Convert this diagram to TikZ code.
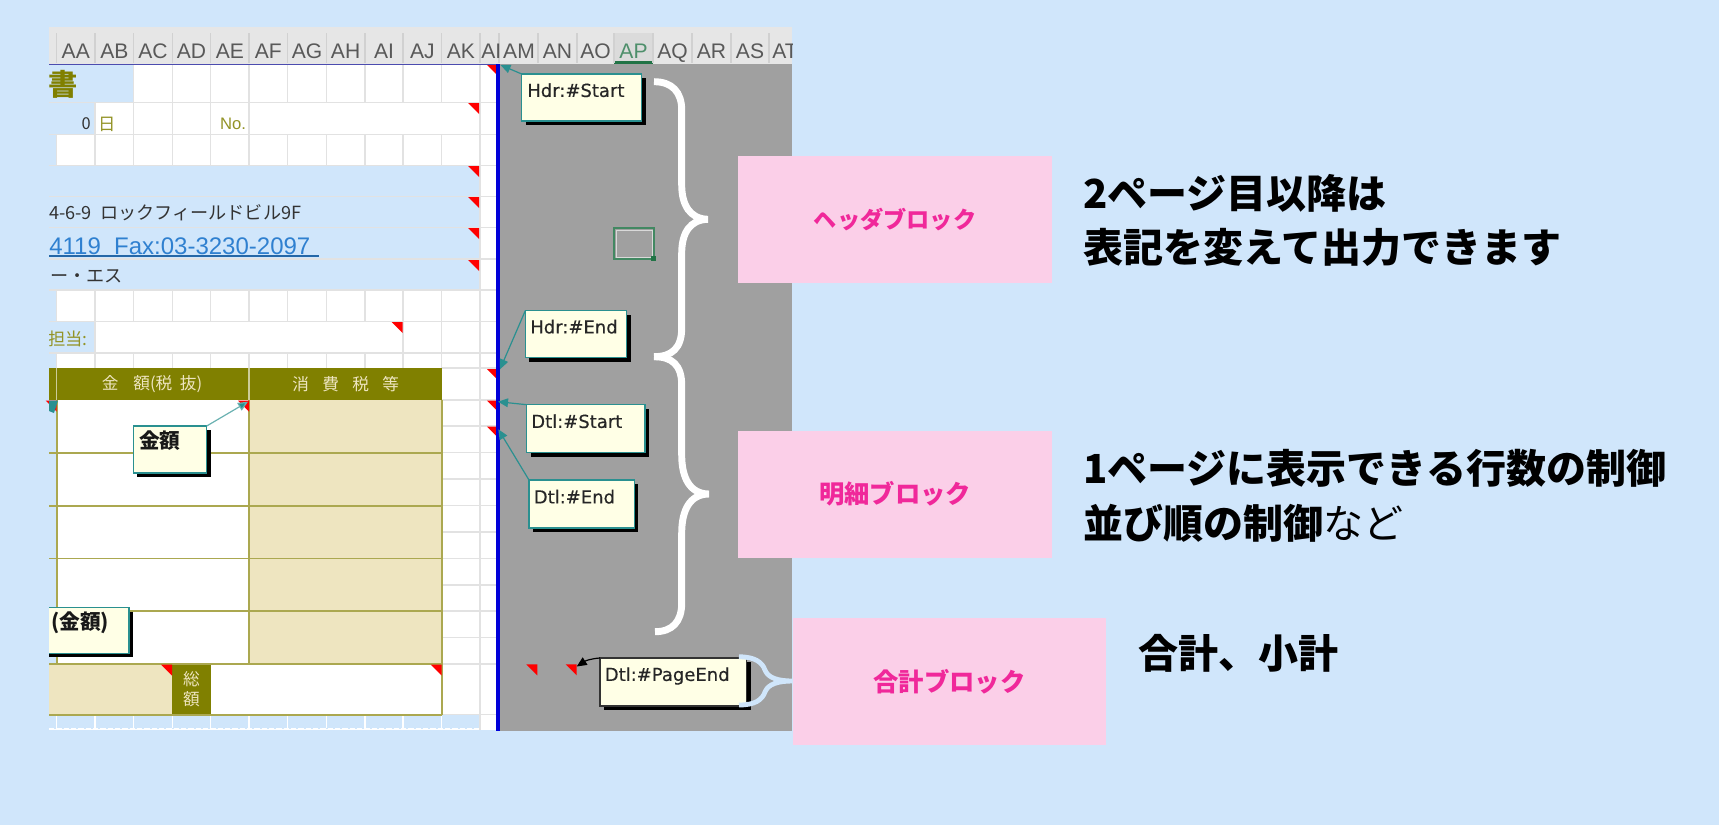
\documentclass[tikz,border=0pt]{standalone}
\usepackage{fontspec}
\usetikzlibrary{arrows.meta}
\setmainfont{Noto Sans CJK JP}
\newfontfamily\latf{Liberation Sans}
\newfontfamily\notef[FakeBold=0.35]{DejaVu Sans}
\newcommand\fsz[1]{\fontsize{#1}{#1}\selectfont}
\definecolor{pagebg}{HTML}{D0E6FB}
\definecolor{pinkbox}{HTML}{FBCFE8}
\definecolor{pinktxt}{HTML}{F0289A}
\definecolor{sheetgray}{HTML}{A0A0A0}
\definecolor{hdrgray}{HTML}{E6E6E6}
\definecolor{gridc}{HTML}{E2E2E2}
\definecolor{olive2}{HTML}{808000}
\definecolor{oliveline}{HTML}{ABA850}
\definecolor{tanc}{HTML}{EEE5C0}
\definecolor{notebg}{HTML}{FFFFE6}
\definecolor{tealc}{HTML}{2A9090}
\definecolor{linkc}{HTML}{2F80D0}
\definecolor{selgreen}{HTML}{217346}
\tikzset{
  notebox/.style={draw=tealc,fill=notebg,line width=1.1pt,anchor=north west,inner sep=0pt,outer sep=0pt},
  notetxt/.style={anchor=north west,inner sep=0pt,font=\notef\fsz{13.5},text=black!85},
  notetxtj/.style={anchor=west,inner sep=0pt,font=\bfseries\fsz{15.5},text=black!90},
  tealarrow/.style={draw=tealc,line width=0.9pt,-{Triangle[length=7.5pt,width=6.5pt,fill=tealc]}},
  blackarrow/.style={draw=black,line width=0.9pt,-{Triangle[length=7.5pt,width=6.5pt,fill=black]}},
  bigbrace/.style={draw=white,line width=5.2pt},
  smallbrace/.style={draw=pagebg,line width=3.6pt},
  pinkbx/.style={fill=pinkbox,inner sep=0pt,outer sep=0pt,anchor=north west,text=pinktxt,font=\bfseries\fsz{19}},
  bigtxt/.style={anchor=west,inner sep=0pt,font=\bfseries\fsz{30},text=black},
  coltxt/.style={inner sep=0pt,anchor=base,font=\latf\fsz{15.8},text=black!65},
  sheettxt/.style={inner sep=0pt,font=\fsz{13.6},text=black!80},
  olivetxt/.style={inner sep=0pt,font=\fsz{13},text=olive2!85},
  headtxt/.style={inner sep=0pt,font=\fsz{12.5},text=tanc},
}
% name, x1,y1,x2,y2
\newcommand\notebox[5]{%
  \fill[black] (#2+4,#3+4) rectangle (#4+4,#5+4);
  \node[notebox,minimum width={(#4-#2)*0.75pt},minimum height={(#5-#3)*0.75pt}] (#1) at (#2,#3) {};
}
\newcommand\redtri[2]{\fill[red] (#1,#2) -- (#1-11,#2) -- (#1,#2+11) -- cycle;}
\begin{document}
\begin{tikzpicture}[x=0.75pt,y=-0.75pt]
\useasboundingbox (0,0) rectangle (1719,825);
\fill[pagebg] (0,0) rectangle (1719,825);
% sheet base
\fill[white] (49,64) rectangle (498,730);
\fill[sheetgray] (498,64) rectangle (792,731);
\fill[hdrgray] (49,27) rectangle (792,64);
% light blue fills
\fill[pagebg] (49,64) rectangle (133.7,102.7);
\fill[pagebg] (49,102.7) rectangle (95,134.7);
\fill[pagebg] (49,134.7) rectangle (56.7,165.7);
\fill[pagebg] (49,165.7) rectangle (480,290);
\fill[pagebg] (49,290) rectangle (56.7,321.7);
\fill[pagebg] (49,321.7) rectangle (95,353);
\fill[pagebg] (49,353) rectangle (56.7,368);
\fill[pagebg] (49,368) rectangle (56.7,664);
\fill[pagebg] (49,714.7) rectangle (479,729);
% grid
\begin{scope}[draw=gridc,line width=1.1pt]
\foreach \yy in {102.7,134.7,165.7,196.7,227.7,259,290,321.7,353}
  \draw (49,\yy) -- (498,\yy);
\foreach \xx in {133.7,172.3,210.7,249,287.7,326.3,365,403,441.7} \draw (\xx,64) -- (\xx,102.7);
\foreach \xx in {95,133.7,172.3,210.7,249} \draw (\xx,102.7) -- (\xx,134.7);
\foreach \xx in {56.7,95,133.7,172.3,210.7,249,287.7,326.3,365,403,441.7} \draw (\xx,134.7) -- (\xx,165.7);
\foreach \xx in {56.7,95,133.7,172.3,210.7,249,287.7,326.3,365,403,441.7} \draw (\xx,290) -- (\xx,321.7);
\foreach \xx in {95,403,441.7} \draw (\xx,321.7) -- (\xx,353);
\foreach \xx in {56.7,95,133.7,172.3,210.7,249,287.7,326.3,365,403} \draw (\xx,353) -- (\xx,368);
\draw (441.7,321.7) -- (441.7,368);
\draw (480,64) -- (480,730);
\foreach \yy in {368,400,426,452.7,479,505.7,532,558.3,585,611,637.7,664,714.7}
  \draw (441.7,\yy) -- (498,\yy);
\end{scope}
% bottom strip
\begin{scope}[draw=white,line width=1pt]
\foreach \xx in {56.7,95,133.7,172.3,210.7,249,287.7,326.3,365,403,441.7} \draw (\xx,714.7) -- (\xx,728);
\draw[dash pattern=on 4pt off 1.5pt] (49,729) -- (479,729);
\end{scope}
% table
\fill[olive2] (49,368) rectangle (441.7,400);
\fill[tanc] (249,400) rectangle (441.7,664);
\fill[tanc] (49,664) rectangle (172,714.7);
\fill[olive2] (172,664) rectangle (210.7,714.7);
\begin{scope}[draw=oliveline,line width=1.2pt]
\foreach \yy in {452.7,505.7,558.3,611,664,714.7} \draw (49,\yy) -- (441.7,\yy);
\draw (56.7,400) -- (56.7,664);
\draw (249,400) -- (249,664);
\draw (441.7,400) -- (441.7,714.7);
\draw[white!60!olive2,line width=0.8pt] (56.7,368) -- (56.7,400);
\draw[white!60!olive2,line width=0.8pt] (249,368) -- (249,400);
\end{scope}
% column headers
\fill[black!14] (614,33) rectangle (653,62);
\draw[selgreen,line width=1.6pt] (614,62.5) -- (653,62.5);
\foreach \xx in {56.7,95,133.7,172.3,210.7,249,287.7,326.3,365,403,441.7,480,499,538,577,614,653,692,731,769}
  \draw[black!18,line width=0.8pt] (\xx,33) -- (\xx,63);
\draw[draw=blue!55!black!70,line width=1.3pt] (49,64.5) -- (498,64.5);
\begin{scope}
\clip (49,27) rectangle (792,731);
\foreach \lbl/\xx in {AA/75.8,AB/114.4,AC/153,AD/191.5,AE/229.8,AF/268.3,AG/307,AH/345.6,AI/384,AJ/422.3,AK/460.8,AM/519,AN/557.5,AO/595.5,AQ/672.5,AR/711.5,AS/750}
  \node[coltxt] (col\lbl) at (\xx,58) {\lbl};
\node[coltxt,anchor=base west] (colAT) at (772,58) {AT};
\node[coltxt,anchor=base west] (colAL) at (481,58) {AI};
\node[coltxt,text=selgreen!80] (colAP) at (633.5,58) {AP};
% sheet texts
\node[inner sep=0pt,font=\bfseries\fsz{22},text=olive2] (tsho) at (63,84) {書};
\node[inner sep=0pt,font=\fsz{12.3},text=black!80,anchor=east] (tzero) at (91,124) {0};
\node[olivetxt] (thi) at (107,124) {日};
\node[olivetxt,font=\latf\fsz{12.5}] (tno) at (233,124) {No.};
\node[sheettxt,anchor=west] (taddr) at (49,212.7) {4-6-9\ \ ロックフィールドビル9F};
\node[inner sep=0pt,anchor=west,font=\latf\fsz{18},text=linkc] (tlink) at (49,246) {4119\ \ Fax:03-3230-2097};
\draw[linkc!80!black,line width=1pt] (49,256) -- (319,256);
\node[sheettxt,anchor=west] (tes) at (50,276) {ー・エス};
\node[olivetxt,anchor=east] (ttan) at (88,339) {担当:};
\node[headtxt] (tkin) at (152,384) {金\hspace{.9em}額(税\hspace{.45em}抜)};
\node[headtxt] (tsho2) at (345.7,384) {消\hspace{.8em}費\hspace{.8em}税\hspace{.8em}等};
\node[headtxt] (tso) at (191.5,679) {総};
\node[headtxt] (tga) at (191.5,699) {額};
\end{scope}
% red triangles
\foreach \yy in {103,166,197,228,260} {\redtri{479}{\yy}}
\redtri{402.7}{322}
\redtri{498}{65} \redtri{498}{369} \redtri{498}{400.5} \redtri{498}{426.7}
\redtri{249}{400.5} \redtri{56.7}{400.5}
\redtri{172}{664.5} \redtri{441.7}{664.5}
\redtri{537.3}{664.3} \redtri{576.7}{664.3}
% blue line
\fill[blue!85!black] (496,64) rectangle (500,731);
% selected cell
\draw[selgreen!85,line width=1.9pt] (614,228) rectangle (654,259);
\draw[white!85!black,line width=0.7pt] (616,230) rectangle (652,257);
\fill[selgreen] (650.5,255.5) rectangle (656,261);
% targets
\coordinate (hsT) at (500.5,65);
\coordinate (heT) at (500,369.3);
\coordinate (dsT) at (498,401.7);
\coordinate (deT) at (498.3,429.3);
\coordinate (peT) at (576.7,666.5);
\coordinate (kiT) at (248,401.7);
% arrowhead at the left table edge
\begin{scope}
\clip (49,395) rectangle (60,420);
\fill[tealc] (49,400.5) -- (58,400.5) -- (54,413) -- (49,411) -- cycle;
\end{scope}
% comments
\notebox{hs}{521.7}{74}{641.7}{121}
\notebox{he}{525.3}{310.7}{626.7}{357.7}
\notebox{ds}{526.7}{404.7}{645}{452.7}
\notebox{de}{529}{480}{634.3}{528}
\notebox{ki}{133.3}{426}{206.7}{473}
\begin{scope}
\clip (49,600) rectangle (140,670);
\notebox{ka}{30}{607.7}{129}{653.3}
\end{scope}
\fill[black] (604,662) rectangle (751,710);
\node[notebox,draw=black!80,minimum width={146.7*0.75pt},minimum height={48*0.75pt}] (pe) at (600,658) {};
\node[notetxt] (hst) at (527,83) {Hdr:\#Start};
\node[notetxt] (het) at (530,319.5) {Hdr:\#End};
\node[notetxt] (dst) at (531,414) {Dtl:\#Start};
\node[notetxt] (det) at (533.5,489.5) {Dtl:\#End};
\node[notetxt] (pet) at (604.5,667) {Dtl:\#PageEnd};
\node[notetxtj] (kit) at (139,441) {金額};
\node[notetxtj] (kat) at (51,622.7) {(金額)};
% connectors
\draw[tealarrow] (hs.north west) -- (hsT);
\draw[tealarrow] (he.north west) -- (heT);
\draw[tealarrow] (ds.north west) -- (dsT);
\draw[tealarrow] (de.north west) -- (deT);
\draw[tealarrow,draw=tealc!70] (ki.north east) -- (kiT);
\draw[blackarrow] (pe.north west) .. controls (592,658.5) and (586,660.5) .. (peT);
% braces
\draw[bigbrace] (654,81.7) .. controls (672,81.7) and (681.7,92) .. (681.7,110) -- (681.7,185) .. controls (681.7,205) and (690,219) .. (708,219.3) .. controls (690,219.6) and (681.7,233) .. (681.7,253) -- (681.7,328) .. controls (681.7,348) and (672,356.7) .. (654,356.7);
\draw[bigbrace] (654,356.7) .. controls (672,356.7) and (681.7,365) .. (681.7,385) -- (681.7,455) .. controls (681.7,478) and (690,494) .. (709,494) .. controls (690,494) and (681.7,510) .. (681.7,533) -- (681.7,603) .. controls (681.7,622) and (672,631.7) .. (655,631.7);
\draw[smallbrace] (739,656.7) .. controls (755,657) and (762,662) .. (765,670) .. controls (768,678) and (778,681) .. (793,681) .. controls (778,681) and (768,684) .. (765,692) .. controls (762,700) and (755,705) .. (739,705);
% pink boxes
\node[pinkbx,font=\bfseries\fsz{17.4},minimum width={314*0.75pt},minimum height={127*0.75pt}] (b1) at (738,156) {ヘッダブロック};
\node[pinkbx,minimum width={314*0.75pt},minimum height={127*0.75pt}] (b2) at (738,430.7) {明細ブロック};
\node[pinkbx,minimum width={313*0.75pt},minimum height={127*0.75pt}] (b3) at (793,618) {合計ブロック};
% right texts
\node[bigtxt] (r1) at (1083,193) {2ページ目以降は};
\node[bigtxt] (r2) at (1083,247) {表記を変えて出力できます};
\node[bigtxt] (r3) at (1083,468) {1ページに表示できる行数の制御};
\node[bigtxt] (r4) at (1083,523) {並び順の制御{\mdseries など}};
\node[bigtxt] (r5) at (1138,653) {合計、小計};
\end{tikzpicture}
\end{document}
